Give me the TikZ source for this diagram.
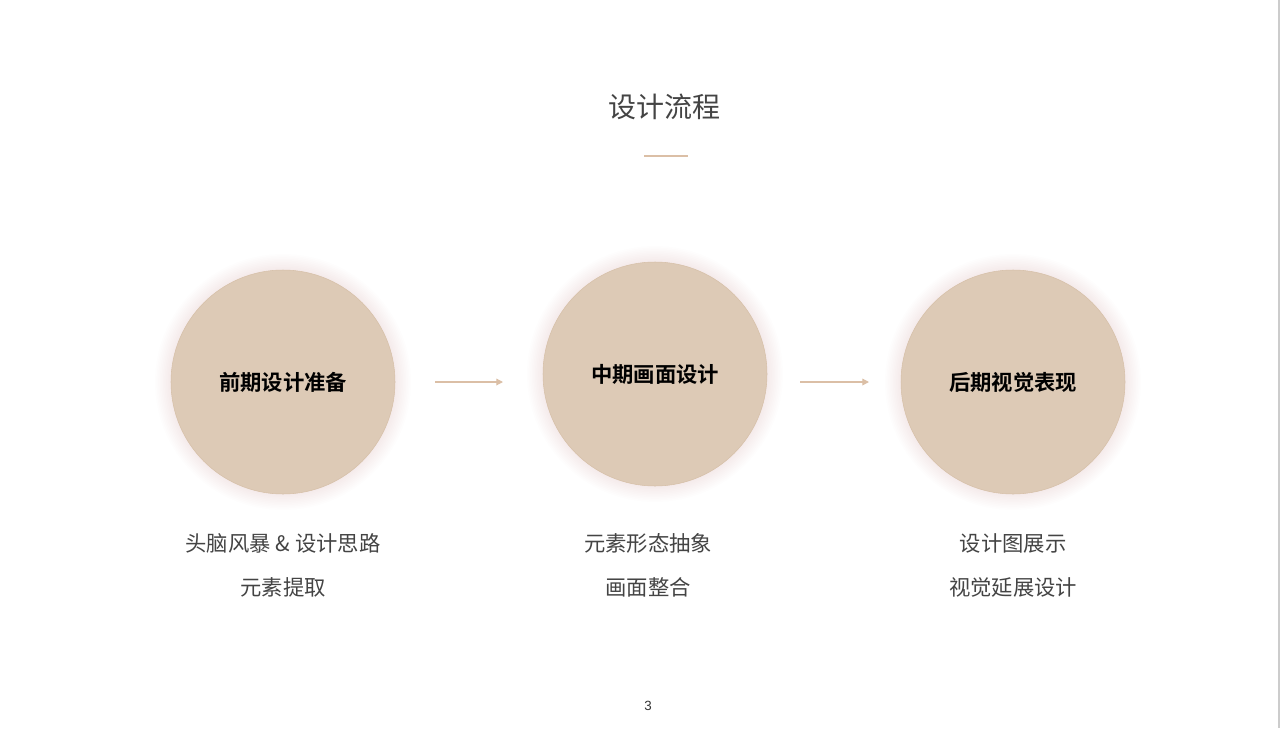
\documentclass[tikz,border=0pt]{standalone}
\usepackage{fontspec}
\setmainfont{Noto Sans CJK SC}
\newfontfamily\cjk{Noto Sans CJK SC}
\newfontfamily\cjkbold{Noto Sans CJK SC Bold}
\newfontfamily\latin{Liberation Sans}
\usetikzlibrary{arrows.meta}
\definecolor{sand}{HTML}{DDCAB6}
\definecolor{sandedge}{HTML}{D6C0A8}
\definecolor{tan}{HTML}{DBBFA6}
\definecolor{ink}{HTML}{444444}
\definecolor{glow}{HTML}{8A6A4A}

\begin{document}
\begin{tikzpicture}[x=0.75pt, y=-0.75pt,
  stage/.style={circle, fill=sand, draw=sandedge, line width=0.4pt, minimum size=224*0.75pt, inner sep=0pt, font=\cjkbold\fontsize{16}{18}\selectfont, text=black},
  note/.style={font=\cjk\fontsize{16}{18}\selectfont, text=ink},
  flow/.style={draw=tan, line width=0.9pt, -{Triangle[length=5pt, width=5pt]}}]
\useasboundingbox (0,0) rectangle (1280,728);
\fill[white] (0,0) rectangle (1280,728);
\draw[black!20, line width=1pt] (1279,0) -- (1279,728);

% title
\node (title)[font=\cjk\fontsize{21}{24}\selectfont, text=ink] at (664,107) {设计流程};
\coordinate (ruleL) at (644,156);
\coordinate (ruleR) at (688,156);
\draw[tan, line width=1pt] (ruleL) -- (ruleR);

% soft glow under the circles
\foreach \cx/\cy in {283/382, 655/374, 1013/382}
  \foreach \r in {1,...,10}
    \fill[glow, opacity=0.006] (\cx,\cy) circle ({(112+1.6*\r)*0.75pt});

% stages
\node (1)[stage] at (283,382) {前期设计准备};
\node (2)[stage] at (655,374) {中期画面设计};
\node (3)[stage] at (1013,382) {后期视觉表现};

% arrows
\coordinate (a1) at (435,382);
\coordinate (b1) at (503,382);
\coordinate (a2) at (800,382);
\coordinate (b2) at (869,382);
\draw[flow] (a1) -- (b1);
\draw[flow] (a2) -- (b2);

% notes
\node (n1)[note] at (283,543) {头脑风暴 \& 设计思路};
\node (n2)[note] at (283,587) {元素提取};
\node (n3)[note] at (648,543) {元素形态抽象};
\node (n4)[note] at (648,587) {画面整合};
\node (n5)[note] at (1013,543) {设计图展示};
\node (n6)[note] at (1013,587) {视觉延展设计};

% page number
\node (page)[font=\latin\fontsize{10}{12}\selectfont, text=black!80] at (648,706) {3};
\end{tikzpicture}
\end{document}
